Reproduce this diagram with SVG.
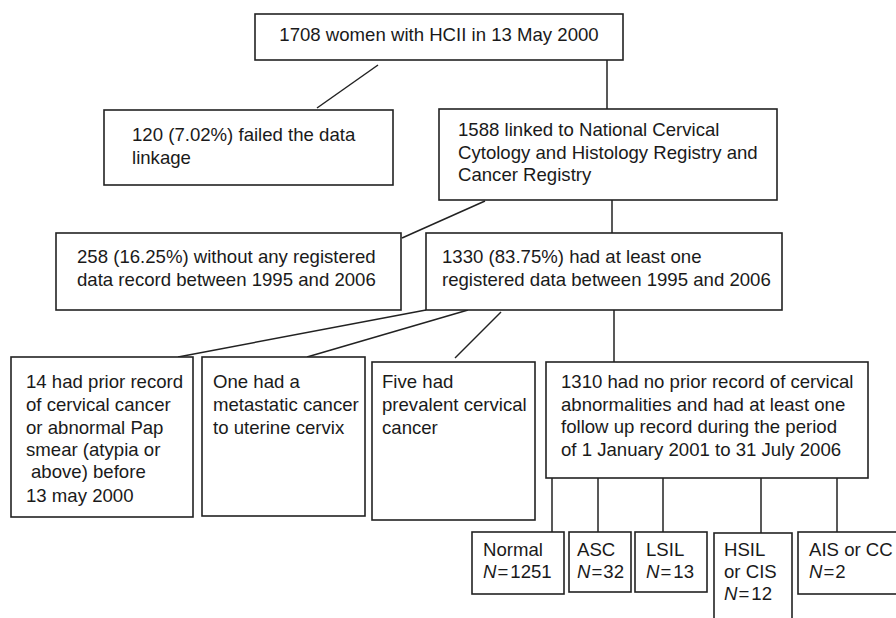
<svg xmlns="http://www.w3.org/2000/svg" width="896" height="618" viewBox="0 0 896 618">
<style>
rect.b{fill:#fff;stroke:#222;stroke-width:1.6}
text{font-family:"Liberation Sans",Arial,sans-serif;font-size:18.6px;fill:#1a1a1a}
.c line{stroke:#222;stroke-width:1.5}
.i{font-style:italic}
</style>
<rect width="896" height="618" fill="#fff"/>
<g class="c" id="connectors">
<line x1="378" y1="65" x2="317" y2="108"/>
<line x1="607" y1="60" x2="607" y2="109"/>
<line x1="485" y1="201" x2="402" y2="238"/>
<line x1="612" y1="200" x2="612" y2="233"/>
<line x1="426" y1="310" x2="178" y2="357"/>
<line x1="468" y1="310" x2="307" y2="357"/>
<line x1="501" y1="312" x2="455" y2="358"/>
<line x1="614" y1="310" x2="614" y2="362"/>
<line x1="552" y1="478" x2="552" y2="532"/>
<line x1="598" y1="478" x2="598" y2="532"/>
<line x1="663" y1="478" x2="663" y2="532"/>
<line x1="761" y1="478" x2="761" y2="533"/>
<line x1="837" y1="478" x2="837" y2="532"/>
</g>
<g id="n_top"><rect class="b" x="255" y="14" width="368" height="46"/><text x="439" y="41" text-anchor="middle">1708 women with HCII in 13 May 2000</text></g>
<g id="n_failed"><rect class="b" x="104" y="110" width="289" height="75"/><text x="132" y="141">120 (7.02%) failed the data</text><text x="132" y="163.5">linkage</text></g>
<g id="n_linked"><rect class="b" x="439" y="109" width="338" height="91"/><text x="458" y="136">1588 linked to National Cervical</text><text x="458" y="158.5">Cytology and Histology Registry and</text><text x="458" y="181">Cancer Registry</text></g>
<g id="n_258"><rect class="b" x="56" y="233" width="345" height="77"/><text x="77" y="263">258 (16.25%) without any registered</text><text x="77" y="285.5">data record between 1995 and 2006</text></g>
<g id="n_1330"><rect class="b" x="426" y="233" width="356" height="77"/><text x="442" y="263">1330 (83.75%) had at least one</text><text x="442" y="285.5">registered data between 1995 and 2006</text></g>
<g id="n_14"><rect class="b" x="11" y="357" width="182" height="160"/><text x="26" y="388">14 had prior record</text><text x="26" y="411">of cervical cancer</text><text x="26" y="434">or abnormal Pap</text><text x="26" y="456">smear (atypia or</text><text x="31" y="478">above) before</text><text x="26" y="502">13 may 2000</text></g>
<g id="n_one"><rect class="b" x="202" y="357" width="163" height="159"/><text x="213" y="388">One had a</text><text x="213" y="411">metastatic cancer</text><text x="213" y="434">to uterine cervix</text></g>
<g id="n_five"><rect class="b" x="372" y="362" width="163" height="158"/><text x="382" y="388">Five had</text><text x="382" y="411">prevalent cervical</text><text x="382" y="434">cancer</text></g>
<g id="n_1310"><rect class="b" x="546" y="362" width="322" height="116"/><text x="561" y="388">1310 had no prior record of cervical</text><text x="561" y="410.5">abnormalities and had at least one</text><text x="561" y="433">follow up record during the period</text><text x="561" y="455.5">of 1 January 2001 to 31 July 2006</text></g>
<g id="n_normal"><rect class="b" x="472" y="532" width="92" height="62"/><text x="483" y="556">Normal</text><text x="483" y="578"><tspan class="i">N</tspan><tspan dx="1">=</tspan><tspan dx="2">1251</tspan></text></g>
<g id="n_asc"><rect class="b" x="569" y="532" width="62" height="60"/><text x="577" y="556">ASC</text><text x="577" y="578"><tspan class="i">N</tspan><tspan dx="1">=</tspan><tspan dx="1">32</tspan></text></g>
<g id="n_lsil"><rect class="b" x="635" y="532" width="72" height="60"/><text x="646" y="556">LSIL</text><text x="646" y="578"><tspan class="i">N</tspan><tspan dx="1">=</tspan><tspan dx="2">13</tspan></text></g>
<g id="n_hsil"><rect class="b" x="714" y="533" width="78" height="90"/><text x="724" y="556">HSIL</text><text x="724" y="578">or CIS</text><text x="724" y="600"><tspan class="i">N</tspan><tspan dx="1">=</tspan><tspan dx="2">12</tspan></text></g>
<g id="n_ais"><rect class="b" x="798" y="532" width="110" height="62"/><text x="809" y="556">AIS or CC</text><text x="809" y="578"><tspan class="i">N</tspan><tspan dx="1">=</tspan><tspan dx="1">2</tspan></text></g>
</svg>
